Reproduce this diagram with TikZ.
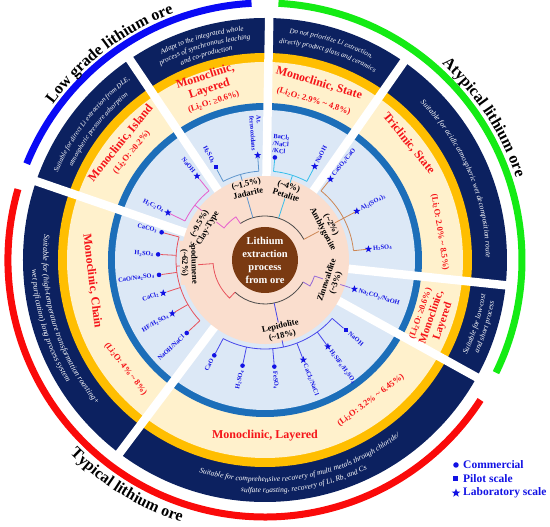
\documentclass[tikz,border=0pt]{standalone}
\usepackage{fontspec}
\setmainfont{Liberation Serif}
\usetikzlibrary{shapes.geometric,decorations.text}

\definecolor{navy}{RGB}{12,33,96}
\definecolor{cream}{RGB}{255,241,204}
\definecolor{gold}{RGB}{255,190,0}
\definecolor{skyfill}{RGB}{220,232,246}
\definecolor{ringblue}{RGB}{28,110,185}
\definecolor{peach}{RGB}{250,222,206}
\definecolor{corec}{RGB}{122,58,18}
\definecolor{reagent}{RGB}{18,18,228}
\definecolor{redtxt}{RGB}{245,20,25}
\definecolor{spodc}{RGB}{232,82,92}
\definecolor{clayc}{RGB}{230,95,205}
\definecolor{jadac}{RGB}{95,150,205}
\definecolor{petac}{RGB}{55,190,235}
\definecolor{amblc}{RGB}{205,135,85}
\definecolor{zinnc}{RGB}{150,105,215}
\definecolor{lepic}{RGB}{70,70,235}
\definecolor{rootc}{RGB}{75,75,75}
\definecolor{lowc}{RGB}{10,10,245}
\definecolor{atypc}{RGB}{20,235,20}
\definecolor{typc}{RGB}{250,10,10}

\newcommand\sub[1]{\textsubscript{#1}}
\newcommand\cwtext[4][6.8]{\path[decorate,decoration={text along path,text align=center,text color=white,
  text={|\fontsize{#1}{8}\selectfont\itshape|#4}}] ({#3+60}:#2) arc[start angle={#3+60},end angle={#3-60},radius=#2pt];}
\newcommand\ccwtext[4][6.8]{\path[decorate,decoration={text along path,text align=center,text color=white,
  text={|\fontsize{#1}{8}\selectfont\itshape|#4}}] ({#3-60}:#2) arc[start angle={#3-60},end angle={#3+60},radius=#2pt];}

\tikzset{
  comm/.style={circle,fill=reagent,inner sep=0pt,minimum size=4.6pt},
  pilot/.style={rectangle,fill=reagent,inner sep=0pt,minimum size=4.2pt},
  lab/.style={star,star points=5,star point ratio=2.4,fill=reagent,inner sep=0pt,minimum size=7.5pt},
  reagtxt/.style={text=reagent,font=\bfseries\fontsize{6.4}{7}\selectfont,inner sep=0.5pt},
  lefttxt/.style={reagtxt,anchor=east,rotate=#1+180},
  righttxt/.style={reagtxt,anchor=west,rotate=#1},
  mineral/.style={fill=peach,align=center,inner sep=0.5pt,font=\bfseries\fontsize{8.6}{9.4}\selectfont},
  crystal/.style={text=redtxt,align=center,inner sep=0pt,font=\bfseries\fontsize{12}{13}\selectfont},
  grade/.style={text=redtxt,align=center,inner sep=0pt,font=\bfseries\fontsize{8.6}{9.5}\selectfont},
  legtxt/.style={anchor=west,text=reagent,inner sep=0pt,font=\bfseries\fontsize{11.5}{12}\selectfont},
  branch/.style={line width=0.8pt}
}

\begin{document}
\begin{tikzpicture}[x=1pt,y=1pt]
\useasboundingbox (-265,-267) rectangle (285,260);
\fill[navy] (0,0) circle (242pt);
\fill[gold] (0,0) circle (207pt);
\fill[cream] (0,0) circle (198pt);
\fill[ringblue] (0,0) circle (157pt);
\fill[skyfill] (0,0) circle (150pt);
\foreach \g in {89,55,-6,-29,233,161,124}
  \draw[white,line width=8.5pt] (\g:80) -- (\g:246);
\fill[peach] (0,0) circle (84pt);

\draw[lowc,line width=7pt] (93:257) arc[start angle=93,end angle=158,radius=257pt];
\draw[atypc,line width=7pt] (-26:257) arc[start angle=-26,end angle=87,radius=257pt];
\draw[typc,line width=7pt] (164:257) arc[start angle=164,end angle=327,radius=257pt];

\draw[rootc,branch] (28:44) arc[start angle=28,end angle=124,radius=44pt];
\draw[rootc,branch] (227:44) arc[start angle=227,end angle=330,radius=44pt];
\draw[amblc,branch] (28:44) -- (28:89);
\draw[amblc,branch] (6:89) arc[start angle=6,end angle=51,radius=89pt];
\draw[petac,branch] (72:44) -- (72:89);
\draw[petac,branch] (62:89) arc[start angle=62,end angle=84.5,radius=89pt];
\draw[jadac,branch] (106:44) -- (106:89);
\draw[jadac,branch] (94:89) arc[start angle=94,end angle=118,radius=89pt];
\draw[clayc,branch] (124:44) -- (124:52) arc[start angle=124,end angle=142,radius=52pt] -- (142:89);
\draw[clayc,branch] (129:89) arc[start angle=129,end angle=154,radius=89pt];
\draw[spodc,branch] (227:44) -- (227:52) arc[start angle=227,end angle=184,radius=52pt] -- (184:89);
\draw[spodc,branch] (165:89) arc[start angle=165,end angle=223,radius=89pt];
\draw[lepic,branch] (282:44) -- (282:89);
\draw[lepic,branch] (242:89) arc[start angle=242,end angle=319,radius=89pt];
\draw[zinnc,branch] (330:44) -- (330:52) arc[start angle=330,end angle=342,radius=52pt];

\foreach \ang/\mk/\lbl in {165/comm/{CaCO\sub{3}},177/comm/{H\sub{2}SO\sub{4}},188/comm/{CaO/Na\sub{2}SO\sub{4}},198/lab/{CaCl\sub{2}},210/lab/{HF/H\sub{2}SO\sub{4}},223/comm/{NaOH/NaCl}}{
  \coordinate (sp-\ang) at (\ang:89);
  \node[\mk] (spm-\ang) at (\ang:107) {};
  \node[lefttxt=\ang] (spt-\ang) at (\ang:111) {\lbl};
  \draw[spodc,branch] (sp-\ang) -- (spm-\ang);
}
\foreach \ang/\mk/\lbl in {129/lab/{NaOH},154/lab/{H\sub{2}C\sub{2}O\sub{4}}}{
  \coordinate (cl-\ang) at (\ang:89);
  \node[\mk] (clm-\ang) at (\ang:108) {};
  \node[lefttxt=\ang] (clt-\ang) at (\ang:112) {\lbl};
  \draw[clayc,branch] (cl-\ang) -- (clm-\ang);
}
\foreach \ang/\mk/\lbl in {118/pilot/{H\sub{2}SO\sub{4}},94/lab/{At.\\ferrooxidans}}{
  \coordinate (ja-\ang) at (\ang:89);
  \node[\mk] (jam-\ang) at (\ang:105) {};
  \node[lefttxt=\ang,align=left] (jat-\ang) at (\ang:109) {\lbl};
  \draw[jadac,branch] (ja-\ang) -- (jam-\ang);
}
\coordinate (pe-1) at (84.5:89);
\node[comm] (pem-1) at (84.5:103) {};
\node[reagtxt,anchor=south west,align=left,rotate=-5,xshift=-4pt] (pet-1) at (84.5:107) {BaCl\sub{2}\\/NaCl\\/KCl};
\draw[petac,branch] (pe-1) -- (pem-1);
\coordinate (pe-2) at (62:89);
\node[lab] (pem-2) at (62:106) {};
\node[righttxt=62] (pet-2) at (62:110) {NaOH};
\draw[petac,branch] (pe-2) -- (pem-2);
\foreach \ang/\mk/\lbl in {51/lab/{CaSO\sub{4}/CaO},28/lab/{Al\sub{2}(SO\sub{4})\sub{3}},6/lab/{H\sub{2}SO\sub{4}}}{
  \coordinate (am-\ang) at (\ang:89);
  \node[\mk] (amm-\ang) at (\ang:104) {};
  \node[righttxt=\ang] (amt-\ang) at (\ang:108) {\lbl};
  \draw[amblc,branch] (am-\ang) -- (amm-\ang);
}
\coordinate (zi-1) at (342:52);
\node[lab] (zim-1) at (342:94) {};
\node[righttxt=-18] (zit-1) at (342:98) {Na\sub{2}CO\sub{3}/NaOH};
\draw[zinnc,branch] (zi-1) -- (zim-1);
\foreach \ang/\mk/\lbl in {-41/pilot/{NaOH},-54/lab/{H\sub{2}SiF\sub{6}/H\sub{2}SO\sub{4}},-69/lab/{CaCl\sub{2}/NaCl},-85/comm/{FeSO\sub{4}}}{
  \coordinate (le-\ang) at (\ang:89);
  \node[\mk] (lem-\ang) at (\ang:107) {};
  \node[righttxt=\ang] (let-\ang) at (\ang:111) {\lbl};
  \draw[lepic,branch] (le-\ang) -- (lem-\ang);
}
\foreach \ang/\mk/\lbl in {258/comm/{H\sub{2}SO\sub{4}},242/comm/{CaO}}{
  \coordinate (le-\ang) at (\ang:89);
  \node[\mk] (lem-\ang) at (\ang:108) {};
  \node[lefttxt=\ang] (let-\ang) at (\ang:112) {\lbl};
  \draw[lepic,branch] (le-\ang) -- (lem-\ang);
}

\node[mineral,rotate=13] (jada) at (104:74) {(\textasciitilde1.5\%)\\Jadarite};
\node[mineral,rotate=-18] (peta) at (72:73) {(\textasciitilde4\%)\\Petalite};
\node[mineral,rotate=-62] (ambl) at (28:70) {(\textasciitilde2\%)\\Amblygonite};
\node[mineral,rotate=72] (zinn) at (-18:70) {Zinnwaldite\\(\textasciitilde3\%)};
\node[mineral,rotate=13] (lepi) at (-77:73) {Lepidolite\\(\textasciitilde18\%)};
\node[mineral,rotate=-88] (spod) at (182:76) {Spodumene\\(\textasciitilde62\%)};
\node[mineral,rotate=61] (clay) at (151:70) {(\textasciitilde9.5\%)\\Clay-Type};

\node[circle,fill=corec,minimum size=66pt,inner sep=0pt,text=white,align=center,font=\bfseries\fontsize{10.5}{13}\selectfont] (origin) at (0,0) {Lithium\\extraction\\process\\from ore};

\node[crystal,rotate=18] (jadacr) at (108:180) {Monoclinic,\\Layered\\{\fontsize{8.6}{9.5}\selectfont(Li\sub{2}O: ≥0.6\%)}};
\node[crystal,rotate=-17] (petacr) at (73:185) {Monoclinic, State};
\node[grade,rotate=-17] (petagr) at (73:166) {(Li\sub{2}O: 2.9\% \textasciitilde{} 4.8\%)};
\node[crystal,rotate=-51] (amblcr) at (39:185) {Triclinic, State};
\node[grade,rotate=-81] (amblgr) at (9:177) {(Li\sub{2}O: 2.0\% \textasciitilde{} 8.5\%)};
\node[crystal,rotate=71,font=\bfseries\fontsize{11}{12}\selectfont] (zinncr) at (-19:177) {{\fontsize{8.6}{9.5}\selectfont(Li\sub{2}O: ≥0.6\%)}\\Monoclinic,\\Layered};
\node[crystal] (lepicr) at (270:176) {Monoclinic, Layered};
\node[grade,rotate=37] (lepigr) at (-53:176) {(Li\sub{2}O: 3.2\% \textasciitilde{} 6.45\%)};
\node[crystal,rotate=-83] (spodcr) at (187:174) {Monoclinic, Chain};
\node[grade,rotate=-52] (spodgr) at (218:177) {(Li\sub{2}O: 4\% \textasciitilde{} 8\%)};
\node[crystal,rotate=51] (claycr) at (141:179) {Monoclinic, Island\\{\fontsize{8.6}{9.5}\selectfont(Li\sub{2}O: ≥0.2\%)}};

\cwtext[7.2]{230}{106}{Adapt to the integrated whole}
\cwtext[7.2]{221}{106}{process of synchronous leaching}
\cwtext[7.2]{212}{106}{and co-production}
\cwtext[7]{228}{73}{Do not prioritize Li extraction,}
\cwtext[7]{217}{73}{directly product glass and ceramics}
\cwtext[7.6]{221}{23}{Suitable for acidic atmospheric wet decomposition route}
\ccwtext[7.6]{223}{-17}{Suitable for low-cost}
\ccwtext[7.6]{233}{-17}{and short process}
\ccwtext[7.5]{222}{280}{Suitable for comprehensive recovery of multi metals through chloride/}
\ccwtext[7.5]{233}{280}{sulfate roasting, recovery of Li, Rb, and Cs}
\ccwtext[8]{222}{197}{Suitable for (high-temperature transformation roasting+}
\ccwtext[8]{233}{197}{wet purification) long process system}
\cwtext[6.9]{225}{142}{Suitable for direct Li extraction from DLE,}
\cwtext[6.9]{214}{142}{atmospheric pressure adsorption}

\path[decorate,decoration={text along path,text align=center,text={|\fontsize{16}{16}\selectfont\bfseries|Low grade lithium ore}}] (190:263) arc[start angle=190,end angle=64,radius=263pt];
\path[decorate,decoration={text along path,text align=center,text={|\fontsize{16}{16}\selectfont\bfseries|Atypical lithium ore}}] (93:264) arc[start angle=93,end angle=-27,radius=264pt];
\path[decorate,decoration={text along path,text align=center,text={|\fontsize{16}{16}\selectfont\bfseries|Typical lithium ore}}] (180:275) arc[start angle=180,end angle=297,radius=275pt];

\node[comm,minimum size=5.5pt] (lgc) at (191,-205) {};
\node[legtxt] (lgct) at (198,-205) {Commercial};
\node[pilot,minimum size=5pt] (lgp) at (191,-219) {};
\node[legtxt] (lgpt) at (198,-219) {Pilot scale};
\node[lab,minimum size=9pt] (lgl) at (191,-233) {};
\node[legtxt] (lglt) at (198,-233) {Laboratory scale};
\end{tikzpicture}
\end{document}
